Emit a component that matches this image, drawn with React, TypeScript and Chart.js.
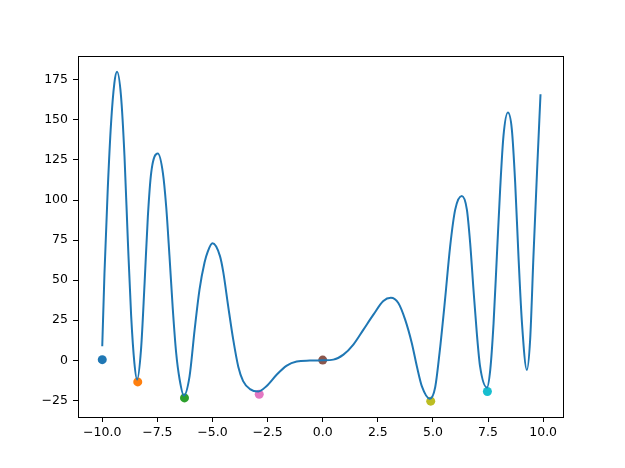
import React, { useEffect, useRef } from "react";
import { Chart, registerables } from "chart.js";

Chart.register(...registerables);

const curveX = [
  -10.0, -9.9, -9.75, -9.6, -9.45, -9.33, -9.15, -8.99, -8.84, -8.69, -8.54, -8.42,
  -8.24, -8.08, -7.93, -7.78, -7.48, -7.25, -7.1, -6.95, -6.8, -6.65, -6.49, -6.3,
  -6.04, -5.81, -5.59, -5.36, -5.21, -5.0, -4.66, -4.51, -4.29, -4.06, -3.83, -3.61,
  -3.3, -2.92, -2.54, -2.09, -1.63, -1.18, -0.58, 0.0, 0.48, 0.94, 1.39, 1.84, 2.3,
  2.75, 3.09, 3.43, 3.74, 4.04, 4.27, 4.5, 4.86, 5.1, 5.3, 5.55, 5.78, 6.01, 6.31,
  6.54, 6.69, 6.84, 6.99, 7.14, 7.45, 7.6, 7.75, 7.9, 8.05, 8.2, 8.4, 8.58, 8.73,
  8.88, 9.04, 9.26, 9.41, 9.56, 9.72, 9.88,
];
const curveY = [
  8.7, 54, 107, 148, 173, 180, 165, 127, 75, 28, -2, -12,
  7, 48, 90, 117, 129, 117, 96, 65, 32, 5, -12, -22,
  -10, 19, 44, 61, 68, 73, 65, 55, 34, 13, -4, -13,
  -18, -19.5, -16, -9, -3.3, -0.8, -0.2, 0, 0.4, 3.5, 9.8, 19, 28.5,
  37, 39, 35.8, 25.4, 10.8, -3.7, -16.3, -24, -17, 4.6, 38, 71, 94, 102.5,
  94, 73, 44, 17, -4, -17, -6, 23, 65, 107, 140, 154.6, 144, 111,
  65, 23, -6, 13, 65, 117, 166,
];

const minX = [-10.0, -8.39, -6.27, -2.88, 0.0, 4.9, 7.47];
const minY = [0.4, -13.5, -23.5, -21.2, 0.1, -25.5, -19.5];
const minColors = ["#1f77b4", "#ff7f0e", "#2ca02c", "#e377c2", "#8c564b", "#bcbd22", "#17becf"];

const xTicks = [-10, -7.5, -5, -2.5, 0, 2.5, 5, 7.5, 10];
const yTicks = [-25, 0, 25, 50, 75, 100, 125, 150, 175];

const framePlugin = {
  id: "frame",
  afterDraw(chart: any) {
    const { ctx, chartArea: a } = chart;
    ctx.save();
    ctx.strokeStyle = "#000";
    ctx.lineWidth = 1;
    ctx.strokeRect(Math.round(a.left) + 0.5, Math.round(a.top) + 0.5, Math.round(a.right - a.left), Math.round(a.bottom - a.top));
    ctx.restore();
  },
};

export default function App() {
  const ref = useRef<HTMLCanvasElement>(null);
  useEffect(() => {
    document.body.style.margin = "0";
    const font = { family: "'DejaVu Sans', sans-serif", size: 12.5 };
    const datasets: any[] = [
      {
        data: curveX.map((x, i) => ({ x, y: curveY[i] })),
        showLine: true,
        borderColor: "#1f77b4",
        borderWidth: 2,
        pointRadius: 0,
        cubicInterpolationMode: "monotone",
        order: 0,
      },
      ...minX.map((x, i) => ({
        data: [{ x, y: minY[i] }],
        pointRadius: 4.5,
        pointBackgroundColor: minColors[i],
        pointBorderWidth: 0,
        backgroundColor: minColors[i],
        order: 1 + i,
      })),
    ];
    const chart = new Chart(ref.current!, {
      type: "scatter",
      data: { datasets },
      options: {
        animation: false,
        responsive: false,
        layout: { padding: { top: 56, right: 62, left: 0, bottom: 0 } },
        plugins: { legend: { display: false }, tooltip: { enabled: false } },
        scales: {
          x: {
            type: "linear",
            min: -11.1,
            max: 10.9,
            afterBuildTicks: (s: any) => {
              s.ticks = xTicks.map((v) => ({ value: v }));
            },
            afterFit: (s: any) => {
              s.height = 51;
            },
            ticks: {
              autoSkip: false,
              maxRotation: 0,
              padding: 3,
              color: "#000",
              font,
              callback: (v: any) => Number(v).toFixed(1).replace("-", "\u2212"),
            },
            grid: { drawOnChartArea: false, drawTicks: true, tickLength: 5, tickColor: "#000" },
            border: { display: true, color: "#000" },
          },
          y: {
            type: "linear",
            min: -35.4,
            max: 189.9,
            afterBuildTicks: (s: any) => {
              s.ticks = yTicks.map((v) => ({ value: v }));
            },
            afterFit: (s: any) => {
              s.width = 78;
            },
            ticks: {
              autoSkip: false,
              padding: 5,
              color: "#000",
              font,
              callback: (v: any) => String(v).replace("-", "\u2212"),
            },
            grid: { drawOnChartArea: false, drawTicks: true, tickLength: 5, tickColor: "#000" },
            border: { display: true, color: "#000" },
          },
        },
      },
      plugins: [framePlugin],
    });
    return () => chart.destroy();
  }, []);
  return (
    <div style={{ width: 625, height: 468, background: "#fff" }}>
      <canvas ref={ref} width={625} height={468} />
    </div>
  );
}
